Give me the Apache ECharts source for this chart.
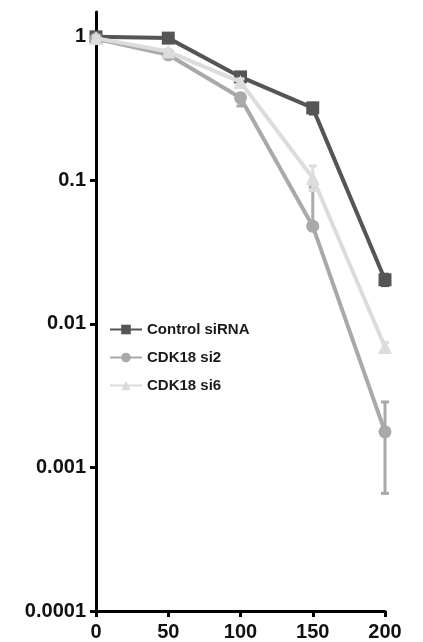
<!DOCTYPE html>
<html>
<head>
<meta charset="utf-8">
<script src="https://cdn.jsdelivr.net/npm/echarts@6/dist/echarts.min.js"></script>
<style>html,body{margin:0;padding:0;background:#fff}#c{width:423px;height:642px}</style>
</head>
<body>
<div id="c"></div>
<script>
const doses = [0, 50, 100, 150, 200];
const xTicks = [0, 50, 100, 150, 200];
const yTickValues = [0.0001, 0.001, 0.01, 0.1, 1];
const yTickLabels = ['0.0001', '0.001', '0.01', '0.1', '1'];
const seriesNames = ['Control siRNA', 'CDK18 si2', 'CDK18 si6'];
const controlVals = [1.0, 0.98, 0.526, 0.32, 0.0203];
const controlLow  = [0.97, 0.95, 0.50, 0.29, 0.0185];
const controlHigh = [1.03, 1.01, 0.55, 0.345, 0.0222];
const si2Vals = [0.97, 0.75, 0.376, 0.048, 0.00177];
const si2Low  = [0.94, 0.72, 0.33, 0.045, 0.00066];
const si2High = [1.0, 0.78, 0.40, 0.09, 0.00286];
const si6Vals = [0.98, 0.79, 0.485, 0.104, 0.0069];
const si6Low  = [0.95, 0.76, 0.46, 0.085, 0.0065];
const si6High = [1.01, 0.82, 0.51, 0.126, 0.0074];
const colors = ['#555555', '#a9a9a9', '#dcdcdc'];
const symbols = ['rect', 'circle', 'triangle'];

const vals = [controlVals, si2Vals, si6Vals];
const lows = [controlLow, si2Low, si6Low];
const highs = [controlHigh, si2High, si6High];

const series = [];
seriesNames.forEach((name, i) => {
  series.push({
    type: 'custom',
    name: name + ' err',
    silent: true,
    z: 2 + i * 2,
    data: doses.map((d, k) => [d, lows[i][k], highs[i][k]]),
    renderItem: (params, api) => {
      const lo = api.coord([api.value(0), api.value(1)]);
      const hi = api.coord([api.value(0), api.value(2)]);
      const w = 4;
      const st = { stroke: colors[i], lineWidth: 3 };
      return {
        type: 'group',
        children: [
          { type: 'line', shape: { x1: lo[0], y1: lo[1], x2: hi[0], y2: hi[1] }, style: st },
          { type: 'line', shape: { x1: lo[0] - w, y1: lo[1], x2: lo[0] + w, y2: lo[1] }, style: st },
          { type: 'line', shape: { x1: hi[0] - w, y1: hi[1], x2: hi[0] + w, y2: hi[1] }, style: st }
        ]
      };
    }
  });
  series.push({
    type: 'line',
    name: name,
    z: 3 + i * 2,
    data: doses.map((d, k) => [d, vals[i][k]]),
    symbol: symbols[i],
    symbolSize: i === 2 ? 14 : 13,
    showAllSymbol: true,
    lineStyle: { color: colors[i], width: 4 },
    itemStyle: { color: colors[i] },
    emphasis: { disabled: true }
  });
});

const chart = echarts.init(document.getElementById('c'), null, { renderer: 'canvas' });
chart.setOption({
  animation: false,
  backgroundColor: '#fff',
  grid: { left: 96, right: 38, top: 12, bottom: 31, containLabel: false },
  legend: {
    data: seriesNames,
    orient: 'vertical',
    left: 104,
    top: 317,
    itemWidth: 32,
    itemHeight: 12,
    itemGap: 13,
    textStyle: { fontFamily: 'Liberation Sans, Arial', fontWeight: 'bold', fontSize: 15, color: '#1a1a1a' }
  },
  xAxis: {
    type: 'value',
    min: 0,
    max: 200,
    interval: 50,
    splitLine: { show: false },
    axisLine: { show: true, lineStyle: { color: '#000', width: 3 } },
    axisTick: { show: true, length: 6, lineStyle: { color: '#000', width: 3 } },
    axisLabel: {
      margin: 11,
      fontFamily: 'Liberation Sans, Arial',
      fontWeight: 'bold',
      fontSize: 20,
      color: '#111',
      customValues: xTicks,
      formatter: v => String(v)
    }
  },
  yAxis: {
    type: 'log',
    logBase: 10,
    min: 0.0001,
    max: 1.49,
    splitLine: { show: false },
    axisLine: { show: true, onZero: false, lineStyle: { color: '#000', width: 3 } },
    axisTick: { show: true, length: 6, lineStyle: { color: '#000', width: 3 }, customValues: yTickValues },
    axisLabel: {
      margin: 10,
      fontFamily: 'Liberation Sans, Arial',
      fontWeight: 'bold',
      fontSize: 20,
      color: '#111',
      customValues: yTickValues,
      formatter: v => {
        let best = 0, bd = Infinity;
        yTickValues.forEach((t, j) => { const d = Math.abs(Math.log10(v) - Math.log10(t)); if (d < bd) { bd = d; best = j; } });
        return yTickLabels[best];
      }
    }
  },
  series: series
});
</script>
</body>
</html>
